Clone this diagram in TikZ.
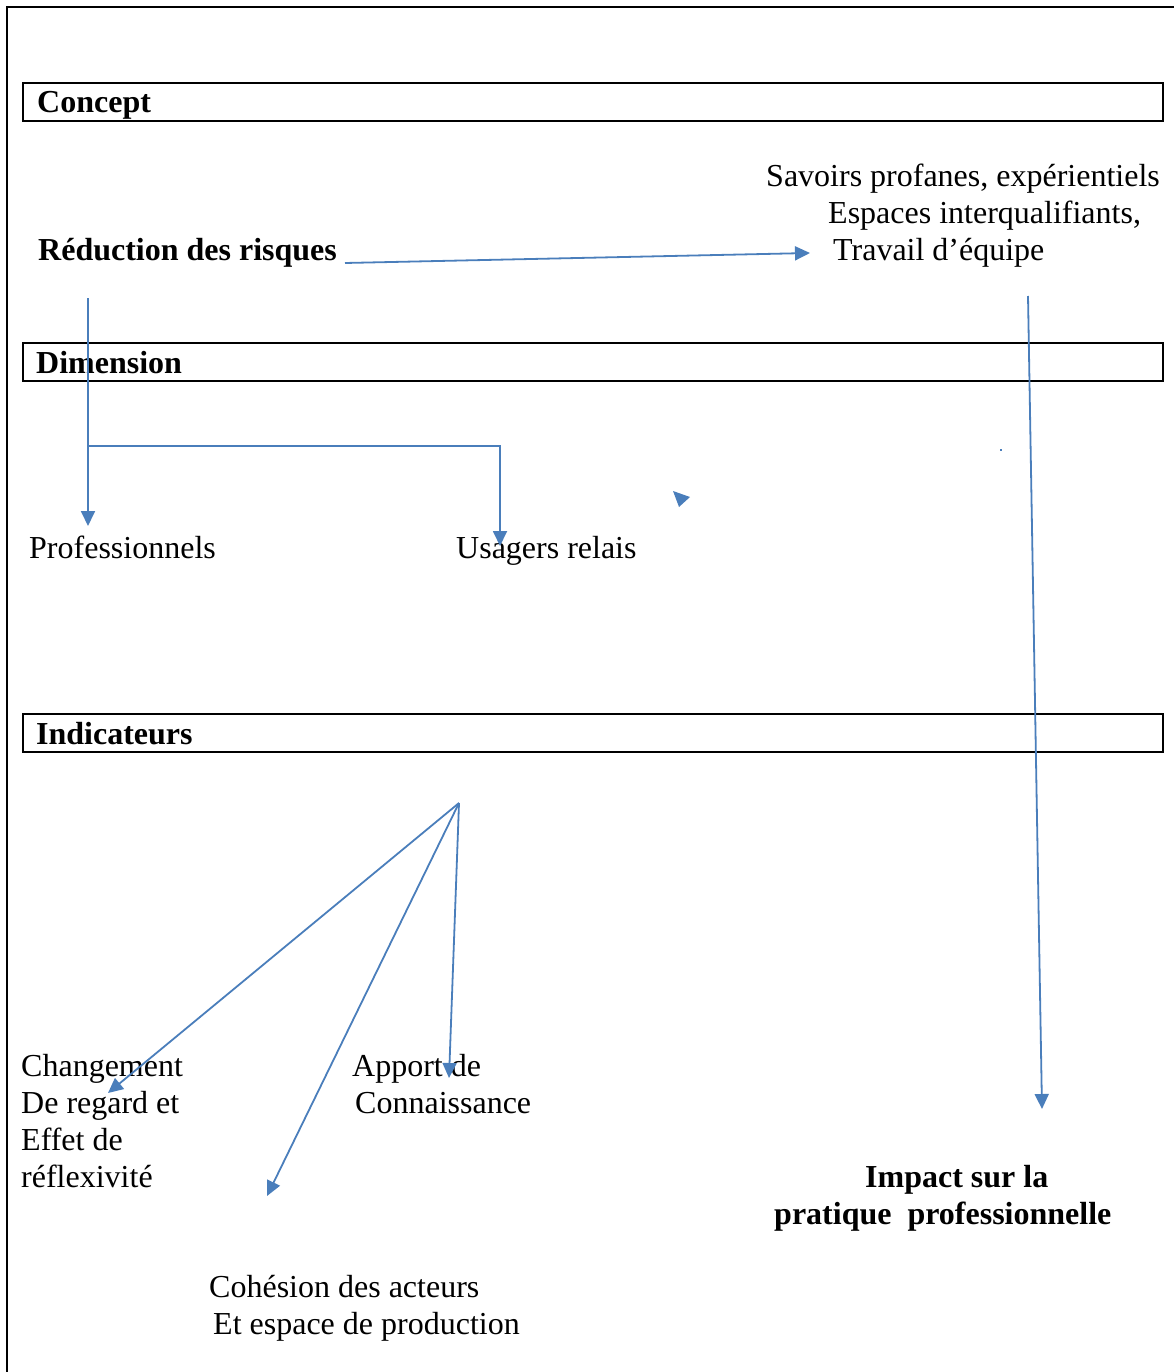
\documentclass[tikz,border=0pt]{standalone}
\usepackage{fontspec}
\setmainfont{Liberation Serif}
\usetikzlibrary{arrows.meta}
\definecolor{arrowblue}{HTML}{4A7EBB}
\tikzset{
  conn/.style={draw=arrowblue, line width=1.8pt, -{Triangle[length=15pt,width=14pt]}},
  hdrbox/.style={draw=black, line width=2.2pt, minimum width=1140pt, minimum height=38pt, anchor=north west, inner sep=0pt},
  txt/.style={anchor=base west, inner sep=0pt, font=\fontsize{32}{37}\selectfont},
  btxt/.style={txt, font=\fontsize{32}{37}\selectfont\bfseries},
}
\begin{document}
\begin{tikzpicture}[x=1pt,y=-1pt]
\useasboundingbox (0,0) rectangle (1174,1372);
% outer frame (left and top only)
\draw[line width=2.2pt] (7,1372) -- (7,7) -- (1174,7);

% header boxes
\node (concept) [hdrbox] at (22,82) {};
\node (conceptT) [btxt] at (37,113) {Concept};
\node (dimension) [hdrbox] at (22,342) {};
\node (dimensionT) [btxt] at (36,373) {Dimension};
\node (indicateurs) [hdrbox] at (22,713) {};
\node (indicateursT) [btxt] at (36,744) {Indicateurs};

% texts
\node (reduction) [btxt] at (38,261) {Réduction des risques};
\node (savoirs1) [txt] at (766,187) {Savoirs profanes, expérientiels};
\node (savoirs2) [txt] at (828,224) {Espaces interqualifiants,};
\node (savoirs3) [txt] at (833,261) {Travail d’équipe};
\node (prof) [txt] at (29,558) {Professionnels};
\node (usagers) [txt] at (456,558) {Usagers relais};
\node (chg1) [txt] at (21,1076) {Changement};
\node (chg2) [txt] at (21,1113) {De regard et};
\node (chg3) [txt] at (21,1150) {Effet de};
\node (chg4) [txt] at (21,1187) {réflexivité};
\node (app1) [txt] at (352,1076) {Apport de};
\node (app2) [txt] at (355,1113) {Connaissance};
\node (imp1) [btxt] at (865,1187) {Impact sur la};
\node (imp2) [btxt] at (774,1224) {pratique\ \ professionnelle};
\node (coh1) [txt] at (209,1297) {Cohésion des acteurs};
\node (coh2) [txt] at (213,1334) {Et espace de production};

% connector coordinates
\coordinate (rA) at (345,263);
\coordinate (rB) at (810,253);
\coordinate (vTop) at (88,298);
\coordinate (vBr) at (88,446);
\coordinate (vEnd) at (88,526);
\coordinate (uCorner) at (500,446);
\coordinate (uEnd) at (500,546);
\coordinate (longA) at (1028,296);
\coordinate (longB) at (1042,1109);
\coordinate (hub) at (459,803);
\coordinate (toChg) at (108,1093);
\coordinate (toCoh) at (267,1196);
\coordinate (toApp) at (449,1078);

% connectors
\draw[conn] (rA) -- (rB);
\draw[conn] (vTop) -- (vEnd);
\draw[conn] (vBr) -- (uCorner) -- (uEnd);
\draw[conn] (longA) -- (longB);
\draw[conn] (hub) -- (toChg);
\draw[conn] (hub) -- (toCoh);
\draw[conn] (hub) -- (toApp);

% stray arrowhead and dot
\fill[arrowblue] (673,491) -- (679,507) -- (690,497) -- cycle;
\fill[arrowblue] (1000,449) rectangle (1002,451);
\end{tikzpicture}
\end{document}
